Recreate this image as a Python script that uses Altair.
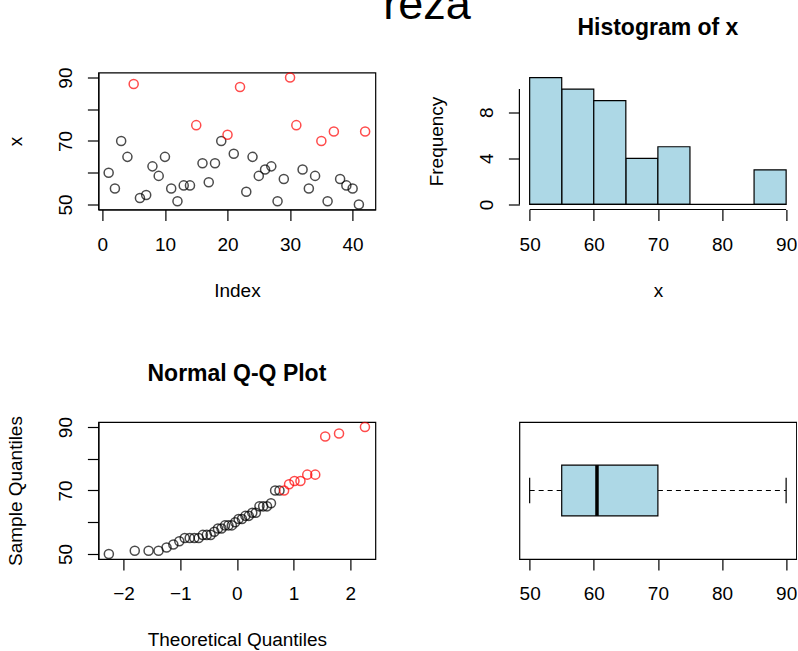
import math
import altair as alt
import pandas as pd

FONT = "Liberation Sans"

# ---- data ----
index = list(range(1, 43))
values = [60, 55, 70, 65, 88, 52, 53, 62, 59, 65, 55, 51, 56, 56, 75, 63, 57, 63, 70, 72, 66,
          87, 54, 65, 59, 61, 62, 51, 58, 90, 75, 61, 55, 59, 70, 51, 73, 58, 56, 55, 50, 73]
point_colors = ["black", "black", "black", "black", "red", "black", "black", "black", "black", "black",
                "black", "black", "black", "black", "red", "black", "black", "black", "black", "red",
                "black", "red", "black", "black", "black", "black", "black", "black", "black", "red",
                "red", "black", "black", "black", "red", "black", "red", "black", "black", "black",
                "black", "red"]
breaks = [50, 55, 60, 65, 70, 75, 80, 85, 90]
index_ticks = [0, 10, 20, 30, 40]
value_ticks = [50, 60, 70, 80, 90]
freq_ticks = [0, 2, 4, 6, 8, 10]
theo_ticks = [-2, -1, 0, 1, 2]
main_title = "reza"

df = pd.DataFrame({"idx": index, "v": values, "col": point_colors})

W, H = 277, 137
PT = 82
PSW = 1.5


def rng(lo, hi):
    p = 0.04 * (hi - lo)
    return [lo - p, hi + p]


# R fivenum
s = sorted(values)
n = len(s)
n4 = ((n + 3) // 2) / 2
d = [1, n4, (n + 1) / 2, n + 1 - n4, n]
five = [0.5 * (s[math.floor(di) - 1] + s[math.ceil(di) - 1]) for di in d]

vdom = rng(min(values), max(values))
hdom = rng(breaks[0], breaks[-1])

LBL = "datum.value % 20 == 10 ? datum.label : ''"

# ---- panel 1: index plot ----
scatter = alt.Chart(df).mark_point(shape="circle", filled=False, size=PT, strokeWidth=PSW).encode(
    x=alt.X("idx:Q", scale=alt.Scale(domain=rng(min(index), max(index)), nice=False, zero=False),
            axis=alt.Axis(values=index_ticks, title="Index")),
    y=alt.Y("v:Q", scale=alt.Scale(domain=vdom, nice=False, zero=False),
            axis=alt.Axis(values=value_ticks, labelExpr=LBL, title="x")),
    color=alt.Color("col:N", scale=None),
)
reza = alt.Chart(pd.DataFrame({"t": [main_title]})).mark_text(
    font=FONT, fontSize=45, align="center", baseline="alphabetic", color="black"
).encode(x=alt.value(328.6), y=alt.value(-54), text="t:N")
p1 = alt.layer(scatter, reza).properties(width=W, height=H)

# ---- panel 2: histogram ----
step = breaks[1] - breaks[0]
hist_base = alt.Chart(df).transform_calculate(
    b0=f"max({breaks[0]}, ceil((datum.v - {breaks[0]}) / {step}) * {step} + {breaks[0] - step})"
).transform_aggregate(count="count()", groupby=["b0"]).transform_calculate(
    b1=f"datum.b0 + {step}"
)
hx = alt.Scale(domain=hdom, nice=False, zero=False)
hy = alt.Scale(domain=[-0.44, 11.44], nice=False, zero=False)
bars = hist_base.mark_rect(fill="#ADD8E6", stroke="black", strokeWidth=1.2).encode(
    x=alt.X("b0:Q", scale=hx, axis=alt.Axis(values=breaks[::2], title="x", domain=False)),
    x2="b1:Q",
    y=alt.Y("count:Q", scale=hy, axis=alt.Axis(values=freq_ticks, title="Frequency", domain=False,
                                               labelExpr="datum.value % 4 == 0 ? datum.label : ''")),
    y2=alt.datum(0),
)
ax_df = pd.DataFrame({"a": [breaks[0]], "b": [breaks[-1]], "c": [freq_ticks[0]], "e": [freq_ticks[-1]]})
base_line = alt.Chart(ax_df).mark_rule(color="black", strokeWidth=1.2).encode(
    x=alt.X("a:Q", scale=hx), x2="b:Q", y=alt.datum(0, scale=hy))
xaxis_line = alt.Chart(ax_df).mark_rule(color="black", strokeWidth=1.2).encode(
    x=alt.X("a:Q", scale=hx), x2="b:Q", y=alt.value(H))
yaxis_line = alt.Chart(ax_df).mark_rule(color="black", strokeWidth=1.2).encode(
    y=alt.Y("c:Q", scale=hy), y2="e:Q", x=alt.value(0))
p2 = alt.layer(bars, base_line, xaxis_line, yaxis_line).properties(
    width=W, height=H,
    title=alt.TitleParams("Histogram of x", font=FONT, fontSize=23, fontWeight="bold", color="black",
                          anchor="middle", frame="group", offset=15, baseline="alphabetic"),
    view=alt.ViewBackground(stroke="transparent"),
)

# ---- panel 3: normal Q-Q plot ----
qq = alt.Chart(df).transform_joinaggregate(n="count()").transform_window(
    rk="row_number()", sort=[alt.SortField("v"), alt.SortField("idx")]
).transform_calculate(
    theo="quantileNormal((datum.rk - 0.5) / datum.n)"
).mark_point(shape="circle", filled=False, size=PT, strokeWidth=PSW).encode(
    x=alt.X("theo:Q", scale=alt.Scale(domain=rng(-2.2636, 2.2636), nice=False, zero=False),
            axis=alt.Axis(values=theo_ticks, title="Theoretical Quantiles")),
    y=alt.Y("v:Q", scale=alt.Scale(domain=vdom, nice=False, zero=False),
            axis=alt.Axis(values=value_ticks, labelExpr=LBL, title="Sample Quantiles")),
    color=alt.Color("col:N", scale=None),
).properties(
    width=W, height=H,
    title=alt.TitleParams("Normal Q-Q Plot", font=FONT, fontSize=23, fontWeight="bold", color="black",
                          anchor="middle", frame="group", offset=12, baseline="alphabetic"),
)

# ---- panel 4: horizontal boxplot ----
bdf = pd.DataFrame({"lo": [five[0]], "q1": [five[1]], "med": [five[2]], "q3": [five[3]], "hi": [five[4]],
                    "b0": [0.8], "b1": [1.2], "c0": [0.9], "c1": [1.1], "mid": [1.0]})
bx = alt.Scale(domain=vdom, nice=False, zero=False)
by = alt.Scale(domain=[0.46, 1.54], nice=False, zero=False)
bb = alt.Chart(bdf)
wl = bb.mark_rule(color="black", strokeWidth=1.2, strokeDash=[5, 4]).encode(
    x=alt.X("lo:Q", scale=bx, axis=alt.Axis(values=value_ticks, title=None)), x2="q1:Q",
    y=alt.Y("mid:Q", scale=by, axis=None))
wr = bb.mark_rule(color="black", strokeWidth=1.2, strokeDash=[5, 4]).encode(
    x=alt.X("q3:Q", scale=bx), x2="hi:Q", y=alt.Y("mid:Q", scale=by))
capl = bb.mark_rule(color="black", strokeWidth=1.2).encode(
    x=alt.X("lo:Q", scale=bx), y=alt.Y("c0:Q", scale=by), y2="c1:Q")
capr = bb.mark_rule(color="black", strokeWidth=1.2).encode(
    x=alt.X("hi:Q", scale=bx), y=alt.Y("c0:Q", scale=by), y2="c1:Q")
box = bb.mark_rect(fill="#ADD8E6", stroke="black", strokeWidth=1.2).encode(
    x=alt.X("q1:Q", scale=bx), x2="q3:Q", y=alt.Y("b0:Q", scale=by), y2="b1:Q")
med = bb.mark_rule(color="black", strokeWidth=3.5).encode(
    x=alt.X("med:Q", scale=bx), y=alt.Y("b0:Q", scale=by), y2="b1:Q")
p4 = alt.layer(wl, wr, capl, capr, box, med).properties(width=W, height=H)

chart = alt.concat(p1, p2, qq, p4, columns=2, spacing={"row": 212.5, "column": 144}, bounds="flush").properties(
    padding={"left": 5.4, "top": -18.5, "right": 0, "bottom": 10},
    background="white",
).configure_view(
    stroke="black", strokeWidth=1.2
).configure_axis(
    labelFont=FONT, labelFontSize=19, labelColor="black",
    titleFont=FONT, titleFontSize=19, titleFontWeight="normal", titleColor="black",
    tickColor="black", tickSize=11, tickWidth=1.2, domainColor="black", domainWidth=1.2,
    grid=False, labelFlush=False, labelOverlap=False, labelBound=False,
).configure_axisBottom(
    labelAlign="center", labelBaseline="alphabetic", labelPadding=30,
    titleX=W / 2, titleY=86.8, titleAlign="center", titleBaseline="alphabetic", titleAngle=0,
).configure_axisLeft(
    labelAngle=270, labelAlign="center", labelBaseline="alphabetic", labelPadding=15.8,
    titleX=-77, titleY=H / 2, titleAlign="center", titleBaseline="alphabetic", titleAngle=270,
)

chart.save("out.html", embed_options={"renderer": "svg", "actions": False})
